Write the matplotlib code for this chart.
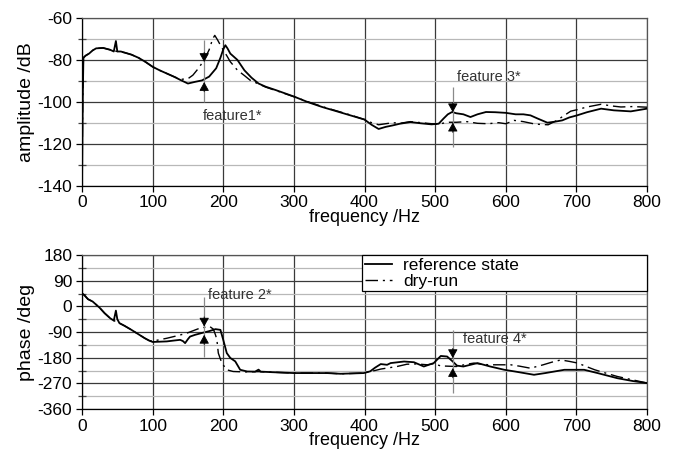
import matplotlib
matplotlib.use("Agg")
import matplotlib.pyplot as plt
from matplotlib.ticker import MultipleLocator

plt.rcParams['font.family'] = ['Liberation Sans', 'DejaVu Sans']
plt.rcParams['axes.unicode_minus'] = False

# ---------------- data ----------------
amp_ref_f = [0, 1, 2, 5, 10, 15, 20, 30, 40, 45, 48, 50, 55, 60, 70, 80, 90, 100, 110, 120,
             130, 140, 150, 160, 170, 180, 190, 196, 200, 203, 206, 210, 215, 220, 225, 230,
             240, 250, 260, 275, 300, 320, 340, 360, 380, 400, 410, 420, 430, 440, 450, 465,
             480, 495, 505, 512, 518, 524, 530, 540, 550, 560, 572, 585, 600, 614, 625, 635,
             645, 659, 670, 680, 690, 701, 715, 735, 753, 777, 800]
amp_ref = [-140, -100, -79, -78, -77, -75.5, -74.5, -74.3, -75.2, -76, -71, -76, -76, -76.5,
           -77.5, -79, -81, -83.3, -85, -86.5, -88, -89.7, -91.3, -90.5, -89.8, -88, -84, -79,
           -75, -73, -74.5, -77, -78.5, -80, -82.5, -85, -88.5, -91.3, -92.8, -94.5, -97.5,
           -100.2, -102.5, -104.5, -106.5, -108.5, -111, -113, -112, -111.3, -110.5, -109.7,
           -110.3, -110.8, -110.5, -108, -106, -104.9, -105.5, -106, -107.3, -106, -104.9,
           -105, -105.3, -106, -106, -106.5, -108, -110, -109.5, -108.9, -107.5, -106.5, -105,
           -103.3, -104.1, -104.6, -103.3]

amp_dry_f = [0, 1, 2, 5, 10, 15, 20, 30, 40, 50, 60, 70, 80, 90, 100, 110, 120, 130, 140,
             150, 157, 165, 173, 180, 185, 188, 192, 196, 200, 205, 210, 220, 230, 238, 250,
             260, 275, 300, 320, 340, 360, 380, 400, 410, 420, 430, 440, 450, 465, 480, 495,
             505, 512, 520, 530, 545, 560, 575, 590, 600, 612, 625, 642, 660, 672, 683, 692,
             701, 715, 735, 750, 763, 780, 800]
amp_dry = [-140, -100, -79, -78, -77, -75.5, -74.5, -74.3, -75.2, -76, -76.5, -77.5, -79, -81,
           -83.3, -85, -86.5, -88, -89.3, -89, -87.3, -84, -80, -75.2, -70, -68.3, -70.5, -73,
           -75.3, -78, -80.9, -84.9, -87.5, -89.7, -91.5, -93, -94.7, -97.6, -100, -102.3,
           -104.3, -106.3, -108.5, -110, -111, -110.5, -110, -110.3, -109.5, -110, -110.5,
           -110.7, -110.2, -109.8, -109.8, -109.5, -110.3, -110.5, -110, -110.5, -108.9,
           -109.5, -110.7, -111, -109, -106.5, -104.5, -103.8, -102.5, -101.2, -102, -102.5,
           -102.3, -102.6]

ph_ref_f = [0, 3, 8.5, 15, 25, 32, 40, 45, 48, 50, 53, 60, 70, 80, 89, 95, 100, 110, 120, 130,
            139, 143, 146, 150, 153, 160, 172, 180, 189, 196, 200, 205, 210, 217, 224, 234, 245,
            250, 253, 270, 300, 347, 366, 399, 408, 415, 423, 432, 437, 456, 470, 484, 498,
            508, 517, 525, 531, 540, 560, 578, 598, 613, 640, 656, 683, 711, 730, 758, 780, 800]
ph_ref = [45, 40, 25, 17, -5, -24, -42, -50, -15, -45, -59, -68, -82.5, -98, -112, -120, -125,
          -124, -123, -120, -117.5, -122, -129, -115, -106, -100, -92, -87, -80, -82.5, -117.5,
          -164, -181, -193, -222.5, -228.5, -229, -222, -229, -231, -234, -234, -236.5, -234,
          -228, -215, -202.5, -205, -199, -193.5, -196, -211, -199, -174, -176, -193.5, -208,
          -211, -199, -211, -222.5, -228.5, -240, -234, -222.5, -222.5, -234, -252, -262, -269]

ph_dry_f = [0, 3, 8.5, 15, 25, 32, 40, 45, 53, 60, 70, 80, 89, 95, 100, 110, 120, 135, 148, 160,
            167, 175, 181, 186, 189, 191, 193, 198, 205, 214, 230, 250, 270, 300, 347, 366, 399,
            408, 415, 423, 446, 460, 474, 489, 498, 508, 520, 530, 545, 555, 568, 579, 607, 620,
            635, 653, 665, 678, 690, 702, 715, 726, 740, 758, 780, 800]
ph_dry = [45, 40, 25, 17, -5, -24, -42, -50, -59, -68, -82.5, -98, -112, -120, -122, -117,
          -112, -103, -94.5, -83, -76.5, -73, -71, -80, -100, -117.5, -164, -199, -222.5,
          -228.5, -230, -229, -231, -234, -234, -236.5, -234, -228, -225, -220, -211, -203,
          -202, -205, -201, -209, -210, -211, -203, -199, -204, -205, -205, -210, -217, -205,
          -196, -188, -193, -199, -212, -222.5, -233, -246, -258, -269]

x_ticks = [0, 100, 200, 300, 400, 500, 600, 700, 800]
amp_ticks = [-140, -120, -100, -80, -60]
ph_ticks = [-360, -270, -180, -90, 0, 90, 180]

# feature annotations: (x, line_top, line_bottom, down_tip, up_tip, label, label_x, label_y)
amp_features = [(173, -70.5, -100.2, -81, -90.6, 'feature1*', 171, -107),
                (525, -93, -121.8, -105, -110, 'feature 3*', 531, -88)]
ph_features = [(173, 34, -176, -71, -100, 'feature 2*', 179, 40),
               (525, -82.5, -304, -181.5, -216.5, 'feature 4*', 539, -114)]

labels = ['reference state', 'dry-run']

# ---------------- figure ----------------
fig = plt.figure(figsize=(6.74, 4.57), dpi=100)
L, W = 82 / 674, 565 / 674
ax1 = fig.add_axes([L, 1 - 185.5 / 457, W, 167.5 / 457])
ax2 = fig.add_axes([L, 1 - 409 / 457, W, 154 / 457])

DASHDOT = (0, (9, 3.5, 1.5, 3.5))
major_c, minor_c = '#3a3a3a', '#b8b8b8'


def style(ax, yticks, ylim, minor_step, ylabel):
    ax.set_xlim(0, 800)
    ax.set_ylim(*ylim)
    ax.set_xticks(x_ticks)
    ax.set_yticks(yticks)
    ax.yaxis.set_minor_locator(MultipleLocator(minor_step))
    ax.grid(True, which='major', color=major_c, lw=0.9)
    ax.grid(True, which='minor', axis='y', color=minor_c, lw=0.9)
    ax.set_axisbelow(True)
    for s in ax.spines.values():
        s.set_color('#555555')
        s.set_linewidth(0.9)
    ax.spines['left'].set_color('black')
    ax.spines['bottom'].set_color('black')
    ax.tick_params(which='major', direction='out', length=4, width=0.9, pad=3,
                   labelsize=12.5, colors='black')
    ax.tick_params(which='minor', direction='inout', length=6, width=0.9, colors='#444444')
    ax.set_xlabel('frequency /Hz', fontsize=13, labelpad=-1)
    ax.set_ylabel(ylabel, fontsize=14, labelpad=2)


def features(ax, feats):
    for (x, top, bot, dtip, utip, lab, lx, ly) in feats:
        ax.vlines(x, bot, top, color='#8a8a8a', lw=0.9, zorder=4)
        for tip, off in ((dtip, 7), (utip, -7)):
            ax.annotate('', xy=(x, tip), xytext=(0, off), textcoords='offset points',
                        xycoords='data',
                        arrowprops=dict(arrowstyle='-|>,head_length=0.45,head_width=0.25',
                                        mutation_scale=12, color='black', lw=0.6,
                                        shrinkA=0, shrinkB=0), zorder=5)
        ax.text(lx, ly, lab, fontsize=10.5, color='#333333', ha='left', va='center', zorder=5)


# amplitude
ax1.plot(amp_ref_f, amp_ref, color='black', lw=1.3, label=labels[0], zorder=3)
ax1.plot(amp_dry_f, amp_dry, color='black', lw=1.0, ls=DASHDOT, label=labels[1], zorder=3)
style(ax1, amp_ticks, (-140, -60), 10, 'amplitude /dB')
features(ax1, amp_features)

# phase
l1, = ax2.plot(ph_ref_f, ph_ref, color='black', lw=1.3, zorder=3)
l2, = ax2.plot(ph_dry_f, ph_dry, color='black', lw=1.0, ls=DASHDOT, zorder=3)
style(ax2, ph_ticks, (-360, 180), 45, 'phase /deg')
features(ax2, ph_features)

leg = ax2.legend([l1, l2], labels, loc='upper left',
                 bbox_to_anchor=(280 / 565, 0.5, 285 / 565, 0.5), mode='expand',
                 fontsize=12.5, frameon=True, fancybox=False, framealpha=1,
                 edgecolor='black', borderaxespad=0, borderpad=0.15, labelspacing=0.05,
                 handlelength=1.6, handletextpad=0.6)
leg.get_frame().set_linewidth(0.9)

fig.savefig('out.png', dpi=100)
